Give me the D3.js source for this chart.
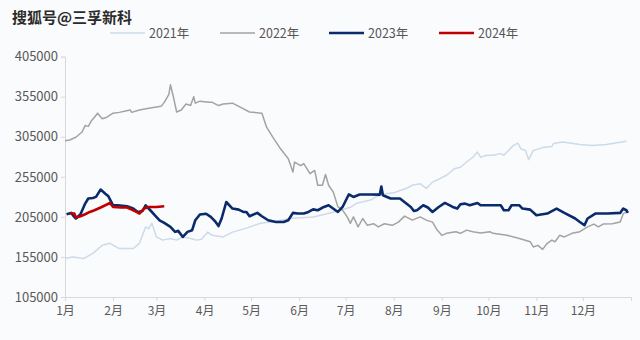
<!DOCTYPE html>
<html><head><meta charset="utf-8">
<script src="https://cdn.jsdelivr.net/npm/d3@7"></script>
<style>
html,body{margin:0;padding:0;background:#fafbfc;}
svg{display:block;font-family:"Noto Sans CJK SC","Noto Sans",sans-serif;}
</style></head>
<body>
<svg id="chart" width="640" height="340"></svg>
<script>
// Data: [day of year, price]
const monthLabels = ["1月","2月","3月","4月","5月","6月","7月","8月","9月","10月","11月","12月"];
const monthStartDays = [0,31,59,90,120,151,181,212,243,273,304,334];
const yTicks = [105000,155000,205000,255000,305000,355000,405000];
const seriesNames = ["2021年","2022年","2023年","2024年"];

const s2021 = [[0,153000],[5,155000],[12,153000],[18,159500],[24,169500],[29,172000],[35,165500],[44,165500],[48,172000],[52,192500],[54,190500],[56,197000],[59,180000],[63,176000],[68,178000],[72,176000],[76,180000],[81,178000],[85,176000],[88,177000],[92,186000],[95,182000],[102,180000],[108,186000],[117,191000],[126,197000],[134,199000],[145,203000],[160,205000],[169,209000],[177,213000],[184,217000],[188,222000],[197,226000],[201,230500],[207,234000],[212,235000],[216,238000],[220,240500],[224,244500],[229,246500],[233,240500],[237,248500],[242,253000],[246,257000],[251,265000],[255,267000],[259,273500],[263,279500],[266,286000],[268,279500],[272,282000],[276,282000],[281,284000],[283,282000],[286,288000],[289,294000],[292,297000],[294,290000],[297,288000],[299,276500],[302,288000],[308,291500],[314,293000],[315,296500],[321,298500],[332,295500],[340,294000],[349,295500],[362,299500]];

const s2022 = [[0,300000],[3,301000],[7,304500],[11,311000],[13,319000],[15,318000],[17,325000],[19,329500],[21,334500],[24,327500],[27,329500],[31,334500],[35,335500],[42,338500],[43,335500],[48,338500],[55,341000],[62,343000],[64,348000],[67,358000],[68,370000],[70,354000],[72,336000],[75,338500],[78,346000],[81,344000],[83,355000],[84,347000],[87,349500],[93,348000],[95,348000],[99,344000],[102,346000],[108,347000],[113,342000],[119,336000],[127,334500],[130,317000],[134,304500],[139,290000],[144,277500],[147,261000],[148,273500],[152,269000],[154,271500],[158,259000],[161,263000],[163,244500],[166,244500],[168,258000],[170,244500],[173,236000],[176,217500],[179,213500],[182,205000],[184,197000],[186,205000],[189,192500],[192,203000],[195,194500],[199,196500],[202,192500],[206,196500],[211,194500],[215,198500],[219,206000],[224,201000],[229,205000],[233,201000],[237,198500],[240,188500],[243,182000],[246,184500],[252,186500],[255,184500],[259,188500],[263,186500],[268,185000],[274,186500],[276,184500],[285,182000],[293,178000],[300,174000],[302,167500],[305,169500],[308,164500],[311,172000],[314,176000],[316,174000],[319,182000],[322,180000],[327,184500],[332,186500],[337,192500],[341,196000],[344,192500],[347,196000],[353,196500],[358,198500],[360,209000],[362,211000]];

const s2023 = [[1,208300],[4,210000],[6,205000],[7,203000],[10,208300],[13,221600],[15,228000],[18,228600],[20,230000],[23,239200],[26,234000],[28,230700],[31,219500],[34,219500],[40,218300],[44,215400],[47,211200],[50,212400],[52,219500],[55,213300],[58,207000],[61,200800],[64,197500],[68,192500],[71,186300],[73,187600],[76,180000],[79,186300],[82,188400],[84,200800],[87,208000],[91,209000],[94,205000],[97,199000],[99,193500],[101,203000],[104,223600],[108,215400],[112,214100],[115,211200],[117,211200],[119,205800],[124,210000],[127,205800],[131,200800],[136,198700],[141,198700],[144,200800],[147,210000],[150,209200],[154,209200],[157,211200],[160,214400],[163,213300],[167,217400],[170,219500],[176,211200],[179,217400],[183,233000],[186,229900],[190,233000],[197,233000],[203,232800],[204,243000],[205,232000],[210,228000],[216,227900],[223,217400],[225,212400],[227,213300],[231,219500],[234,216700],[237,211200],[241,217400],[245,222400],[250,217400],[253,215400],[255,220800],[258,221600],[261,219500],[266,222400],[268,219500],[281,219500],[283,213300],[286,213300],[288,219500],[293,219500],[295,215400],[300,214100],[304,207000],[311,209200],[317,215400],[322,210000],[329,203000],[332,198700],[335,194600],[337,203000],[342,209200],[350,209200],[358,210000],[360,215400],[362,213300],[363,210000]];

const s2024 = [[3,209500],[6,209200],[7,204200],[10,205800],[13,208300],[16,211200],[19,213300],[23,216700],[26,219500],[29,222400],[31,217400],[36,216700],[40,216700],[43,214100],[46,211200],[48,209200],[51,215400],[54,217400],[59,217400],[64,218200]];

const colors = ["#cddbe9","#a3a3a3","#0b2a6b","#c00000"];
const widths = [1.5,1.5,2.6,2.6];
const allSeries = [s2021, s2022, s2023, s2024];

const svg = d3.select("#chart");
const x = d3.scaleLinear().domain([0,365]).range([65,631]);
const y = d3.scaleLinear().domain([105000,405000]).range([297,56.7]);

// watermark
svg.append("text").attr("x",12).attr("y",23).attr("font-size",15).attr("font-weight","bold")
  .attr("fill","#2b2b2b").text("搜狐号@三孚新科");

// legend
const legendX = [110,220,329,439];
seriesNames.forEach((n,i)=>{
  const g = svg.append("g");
  g.append("line").attr("x1",legendX[i]).attr("x2",legendX[i]+35).attr("y1",33).attr("y2",33)
    .attr("stroke",colors[i]).attr("stroke-width",i>=2?2.6:1.5);
  g.append("text").attr("x",legendX[i]+39).attr("y",37.5).attr("font-size",12.5)
    .attr("fill","#555").text(n);
});

// y axis
const yAxis = svg.append("g").attr("transform","translate(65,0)")
  .call(d3.axisLeft(y).tickValues(yTicks).tickFormat(d3.format("d")).tickSize(4).tickPadding(3));
yAxis.select(".domain").attr("stroke","#d9d9d9");
yAxis.selectAll(".tick line").attr("stroke","#d9d9d9");
yAxis.selectAll("text").attr("font-size",13).attr("fill","#595959").attr("font-family","'Noto Sans CJK SC',sans-serif");

// x axis
const xAxis = svg.append("g").attr("transform","translate(0,297)")
  .call(d3.axisBottom(x).tickValues(monthStartDays).tickFormat((d,i)=>monthLabels[i]).tickSize(4).tickPadding(5));
xAxis.select(".domain").attr("stroke","#d9d9d9");
xAxis.selectAll(".tick line").attr("stroke","#d9d9d9");
xAxis.selectAll("text").attr("font-size",12).attr("fill","#595959").attr("font-family","'Noto Sans CJK SC',sans-serif");

const line = d3.line().x(d=>x(d[0])).y(d=>y(d[1]));
allSeries.forEach((s,i)=>{
  svg.append("path").datum(s).attr("d",line).attr("fill","none")
    .attr("stroke",colors[i]).attr("stroke-width",widths[i]).attr("stroke-linejoin","round");
});
</script>
</body></html>
